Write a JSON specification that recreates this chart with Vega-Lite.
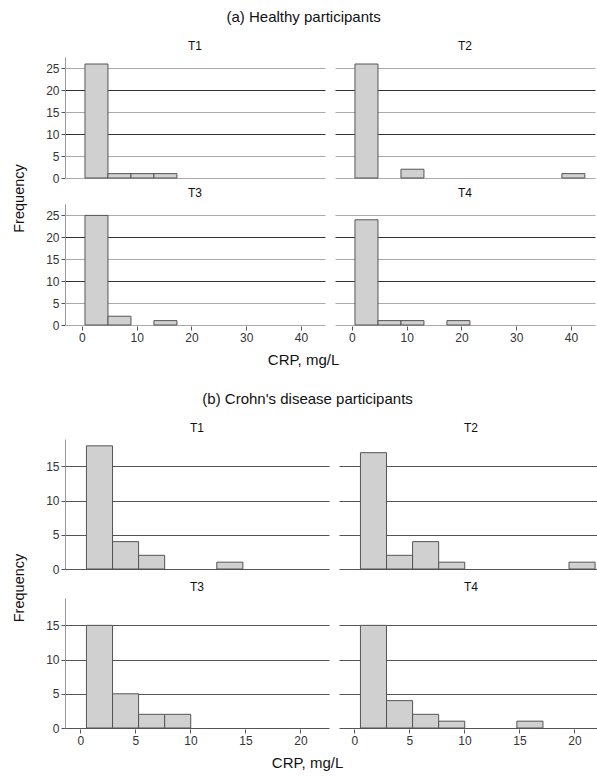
{
  "$schema": "https://vega.github.io/schema/vega-lite/v6.json",
  "padding": {"left": 12, "top": 10, "right": 0, "bottom": 0},
  "background": "white",
  "spacing": 24,
  "datasets": {
    "healthy": [
      {"time": "T1", "lo": 0.55, "hi": 4.75, "n": 26},
      {"time": "T1", "lo": 4.75, "hi": 8.95, "n": 1},
      {"time": "T1", "lo": 8.95, "hi": 13.15, "n": 1},
      {"time": "T1", "lo": 13.15, "hi": 17.35, "n": 1},
      {"time": "T2", "lo": 0.55, "hi": 4.75, "n": 26},
      {"time": "T2", "lo": 8.95, "hi": 13.15, "n": 2},
      {"time": "T2", "lo": 38.35, "hi": 42.55, "n": 1},
      {"time": "T3", "lo": 0.55, "hi": 4.75, "n": 25},
      {"time": "T3", "lo": 4.75, "hi": 8.95, "n": 2},
      {"time": "T3", "lo": 13.15, "hi": 17.35, "n": 1},
      {"time": "T4", "lo": 0.55, "hi": 4.75, "n": 24},
      {"time": "T4", "lo": 4.75, "hi": 8.95, "n": 1},
      {"time": "T4", "lo": 8.95, "hi": 13.15, "n": 1},
      {"time": "T4", "lo": 17.35, "hi": 21.55, "n": 1}
    ],
    "crohn": [
      {"time": "T1", "lo": 0.55, "hi": 2.92, "n": 18},
      {"time": "T1", "lo": 2.92, "hi": 5.29, "n": 4},
      {"time": "T1", "lo": 5.29, "hi": 7.66, "n": 2},
      {"time": "T1", "lo": 12.4, "hi": 14.77, "n": 1},
      {"time": "T2", "lo": 0.55, "hi": 2.92, "n": 17},
      {"time": "T2", "lo": 2.92, "hi": 5.29, "n": 2},
      {"time": "T2", "lo": 5.29, "hi": 7.66, "n": 4},
      {"time": "T2", "lo": 7.66, "hi": 10.03, "n": 1},
      {"time": "T2", "lo": 19.51, "hi": 21.88, "n": 1},
      {"time": "T3", "lo": 0.55, "hi": 2.92, "n": 15},
      {"time": "T3", "lo": 2.92, "hi": 5.29, "n": 5},
      {"time": "T3", "lo": 5.29, "hi": 7.66, "n": 2},
      {"time": "T3", "lo": 7.66, "hi": 10.03, "n": 2},
      {"time": "T4", "lo": 0.55, "hi": 2.92, "n": 15},
      {"time": "T4", "lo": 2.92, "hi": 5.29, "n": 4},
      {"time": "T4", "lo": 5.29, "hi": 7.66, "n": 2},
      {"time": "T4", "lo": 7.66, "hi": 10.03, "n": 1},
      {"time": "T4", "lo": 14.77, "hi": 17.14, "n": 1}
    ]
  },
  "config": {
    "font": "Liberation Sans",
    "view": {"stroke": null},
    "title": {"font": "Liberation Sans", "fontSize": 15, "fontWeight": "normal", "color": "#111", "anchor": "middle"},
    "axis": {"labelFont": "Liberation Sans", "labelFontSize": 12, "labelColor": "#333", "tickColor": "#555", "domainColor": "#999", "title": null},
    "header": {"labelFont": "Liberation Sans", "labelFontSize": 12, "labelColor": "#111", "labelPadding": 4, "title": null}
  },
  "vconcat": [
    {
      "title": {"text": "(a) Healthy participants", "anchor": "middle", "offset": 15},
      "vconcat": [
        {
          "title": {"text": "CRP, mg/L", "orient": "bottom", "anchor": "middle", "offset": 10},
          "vconcat": [
            {
              "title": {"text": "Frequency", "orient": "left", "anchor": "middle", "fontSize": 14.5, "offset": 18, "dx": -7},
              "data": {"name": "healthy"},
              "facet": {"field": "time", "type": "nominal", "header": {"title": null}},
              "columns": 2,
              "spacing": {"row": 8, "column": 10},
              "spec": {
                "width": 260,
                "height": 121,
                "mark": {"type": "rect", "fill": "#d0d0d0", "stroke": "#555", "strokeWidth": 1},
                "encoding": {
                  "x": {"field": "lo", "type": "quantitative",
                        "scale": {"domain": [-3.1, 44.4], "nice": false, "zero": false},
                        "axis": {"values": [0, 10, 20, 30, 40], "grid": false, "domain": false, "tickSize": 4, "tickColor": "#555", "labelPadding": 2}},
                  "x2": {"field": "hi"},
                  "y": {"field": "n", "type": "quantitative",
                        "scale": {"domain": [0, 27.6], "nice": false},
                        "axis": {"values": [0, 5, 10, 15, 20, 25], "grid": true,
                                 "gridColor": {"condition": {"test": "datum.value === 10 || datum.value === 20", "value": "#333"}, "value": "#aaa"},
                                 "tickSize": 4, "labelPadding": 2}},
                  "y2": {"datum": 0}
                }
              }
            }
          ]
        }
      ]
    },
    {
      "title": {"text": "(b) Crohn's disease participants", "anchor": "middle", "offset": 15},
      "vconcat": [
        {
          "title": {"text": "CRP, mg/L", "orient": "bottom", "anchor": "middle", "offset": 10},
          "vconcat": [
            {
              "title": {"text": "Frequency", "orient": "left", "anchor": "middle", "fontSize": 14.5, "offset": 18, "dx": -4},
              "data": {"name": "crohn"},
              "facet": {"field": "time", "type": "nominal", "header": {"title": null}},
              "columns": 2,
              "spacing": {"row": 11, "column": 10},
              "spec": {
                "width": 264,
                "height": 130,
                "mark": {"type": "rect", "fill": "#d0d0d0", "stroke": "#555", "strokeWidth": 1},
                "encoding": {
                  "x": {"field": "lo", "type": "quantitative",
                        "scale": {"domain": [-1.4, 22.6], "nice": false, "zero": false},
                        "axis": {"values": [0, 5, 10, 15, 20], "grid": false, "domain": false, "tickSize": 4, "tickColor": "#555", "labelPadding": 2}},
                  "x2": {"field": "hi"},
                  "y": {"field": "n", "type": "quantitative",
                        "scale": {"domain": [0, 19], "nice": false},
                        "axis": {"values": [0, 5, 10, 15], "grid": true, "gridColor": "#555",
                                 "tickSize": 4, "labelPadding": 2}},
                  "y2": {"datum": 0}
                }
              }
            }
          ]
        }
      ]
    }
  ]
}
